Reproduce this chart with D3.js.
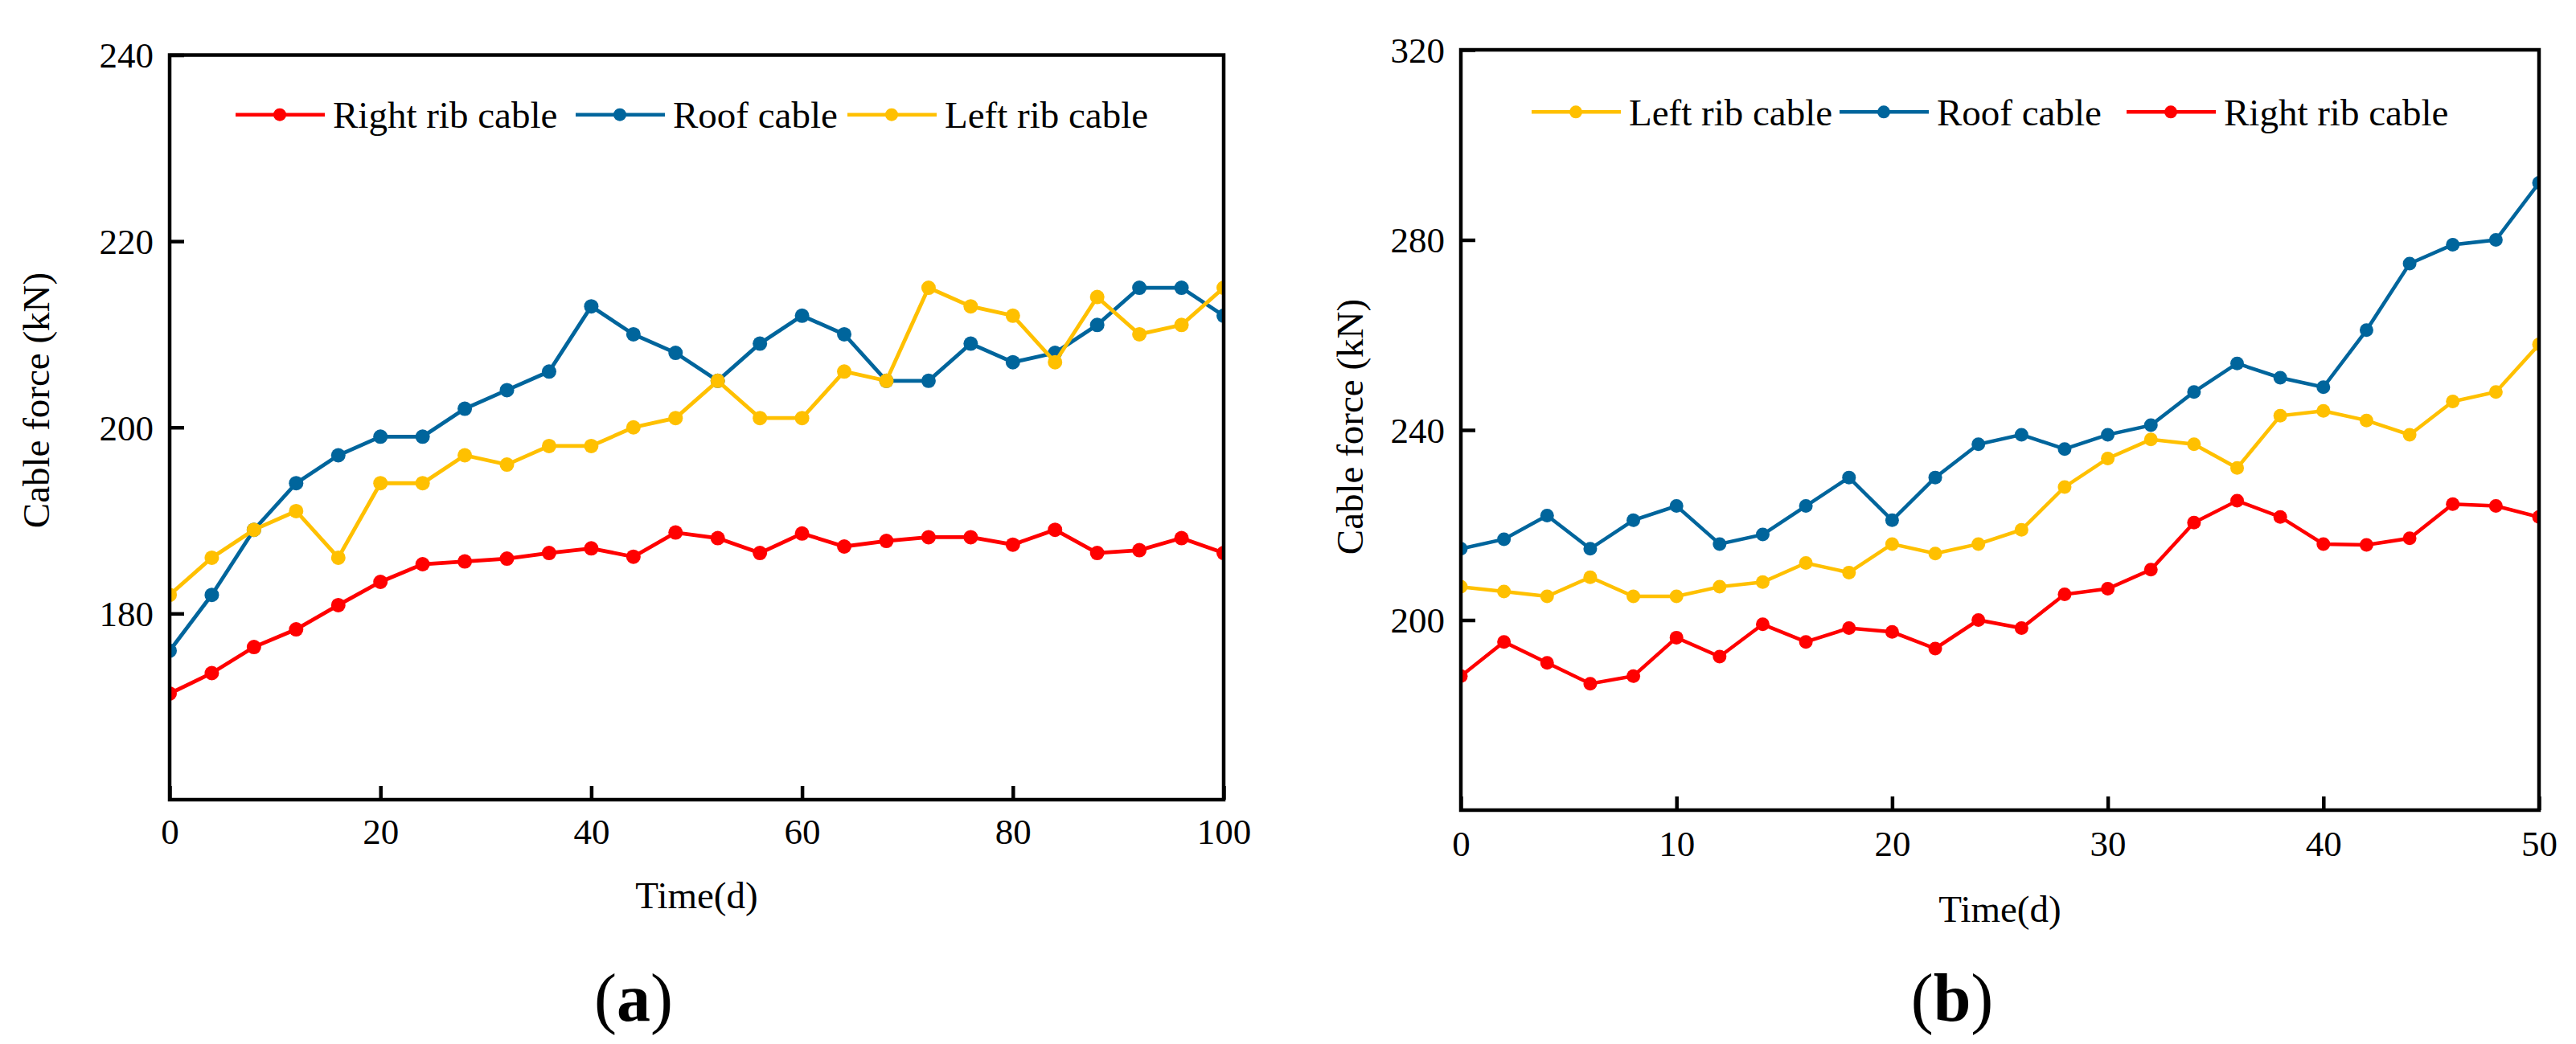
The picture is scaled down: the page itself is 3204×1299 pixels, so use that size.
<!DOCTYPE html>
<html>
<head>
<meta charset="utf-8">
<script src="https://cdn.jsdelivr.net/npm/d3@7/dist/d3.min.js"></script>
<style>
  html, body { margin: 0; padding: 0; background: #fff; }
  svg { display: block; }
  text { font-family: "Liberation Serif", "Times New Roman", serif; fill: #000; }
</style>
</head>
<body>
<svg id="chart" width="3204" height="1299"></svg>
<script>
// ---------- Data: panel (a) ----------
const timeA = [0,4,8,12,16,20,24,28,32,36,40,44,48,52,56,60,64,68,72,76,80,84,88,92,96,100];
const rightRibA = [171.4,173.6,176.4,178.3,180.9,183.4,185.3,185.6,185.9,186.5,187.0,186.1,188.7,188.1,186.5,188.6,187.2,187.8,188.2,188.2,187.4,189.0,186.5,186.8,188.1,186.5];
const roofA = [176,182,189,194,197,199,199,202,204,206,213,210,208,205,209,212,210,205,205,209,207,208,211,215,215,212];
const leftRibA = [182,186,189,191,186,194,194,197,196,198,198,200,201,205,201,201,206,205,215,213,212,207,214,210,211,215];
const xTicksA = [0,20,40,60,80,100];
const yTicksA = [180,200,220,240];

// ---------- Data: panel (b) ----------
const timeB = [0,2,4,6,8,10,12,14,16,18,20,22,24,26,28,30,32,34,36,38,40,42,44,46,48,50];
const leftRibB = [207,206,205,209,205,205,207,208,212,210,216,214,216,219,228,234,238,237,232,243,244,242,239,246,248,258];
const roofB = [215,217,222,215,221,224,216,218,224,230,221,230,237,239,236,239,241,248,254,251,249,261,275,279,280,292];
const rightRibB = [188.2,195.4,191,186.6,188.2,196.3,192.3,199.1,195.4,198.3,197.5,194,200,198.3,205.4,206.6,210.6,220.5,225.1,221.7,216,215.8,217.2,224.4,224,221.7];
const xTicksB = [0,10,20,30,40,50];
const yTicksB = [200,240,280,320];

const seriesNames = ["Right rib cable", "Roof cable", "Left rib cable"];
const colors = { "Right rib cable": "#FF0000", "Roof cable": "#00659C", "Left rib cable": "#FFC000" };

const svg = d3.select("#chart");

function drawPanel(cfg) {
  const g = svg.append("g");
  const x = d3.scaleLinear().domain(cfg.xDomain).range([cfg.left, cfg.right]);
  const y = d3.scaleLinear().domain(cfg.yDomain).range([cfg.bottom, cfg.top]);

  const clipId = "clip-" + cfg.id;
  svg.append("defs").append("clipPath").attr("id", clipId)
    .append("rect")
    .attr("x", cfg.left).attr("y", cfg.top)
    .attr("width", cfg.right - cfg.left).attr("height", cfg.bottom - cfg.top);

  // series
  const plot = g.append("g").attr("clip-path", `url(#${clipId})`);
  const line = d3.line().x(d => x(d[0])).y(d => y(d[1]));
  cfg.series.forEach(s => {
    const pts = cfg.time.map((t, i) => [t, s.values[i]]);
    plot.append("path").datum(pts)
      .attr("fill", "none").attr("stroke", colors[s.name])
      .attr("stroke-width", cfg.lineW).attr("d", line);
    plot.selectAll(null).data(pts).enter().append("circle")
      .attr("cx", d => x(d[0])).attr("cy", d => y(d[1]))
      .attr("r", cfg.markR).attr("fill", colors[s.name]);
  });

  // axes
  const xAxis = d3.axisBottom(x).tickValues(cfg.xTicks).tickSizeInner(-17).tickSizeOuter(0).tickPadding(cfg.xPad);
  const yAxis = d3.axisLeft(y).tickValues(cfg.yTicks).tickSizeInner(-18).tickSizeOuter(0).tickPadding(20);
  const gx = g.append("g").attr("transform", `translate(0,${cfg.bottom})`).call(xAxis);
  const gy = g.append("g").attr("transform", `translate(${cfg.left},0)`).call(yAxis);
  [gx, gy].forEach(a => {
    a.select(".domain").remove();
    a.selectAll(".tick line").attr("stroke", "#000").attr("stroke-width", 4.5);
    a.selectAll(".tick text").attr("font-size", 45).attr("font-family", '"Liberation Serif", "Times New Roman", serif');
  });
  gy.selectAll(".tick text").attr("dy", "0.34em");

  // frame
  g.append("rect")
    .attr("x", cfg.left).attr("y", cfg.top)
    .attr("width", cfg.right - cfg.left).attr("height", cfg.bottom - cfg.top)
    .attr("fill", "none").attr("stroke", "#000").attr("stroke-width", 4.5);

  // axis titles
  g.append("text").attr("x", (cfg.left + cfg.right) / 2).attr("y", cfg.xTitleY)
    .attr("text-anchor", "middle").attr("font-size", 47).text("Time(d)");
  g.append("text")
    .attr("transform", `translate(${cfg.yTitleX},${cfg.yTitleCY}) rotate(-90)`)
    .attr("text-anchor", "middle").attr("font-size", 47).text("Cable force (kN)");

  // legend
  cfg.series.forEach((s, i) => {
    const lx = cfg.left + cfg.legendOffsets[i];
    const ly = cfg.legendY;
    const lg = g.append("g");
    lg.append("line").attr("x1", lx).attr("x2", lx + 111).attr("y1", ly).attr("y2", ly)
      .attr("stroke", colors[s.name]).attr("stroke-width", 4.5);
    lg.append("circle").attr("cx", lx + 55).attr("cy", ly).attr("r", 8).attr("fill", colors[s.name]);
    lg.append("text").attr("x", lx + 121).attr("y", ly).attr("dy", "0.35em")
      .attr("font-size", 47).text(s.name);
  });

  // panel label
  const lab = g.append("text").attr("x", cfg.labelX).attr("y", 1270)
    .attr("text-anchor", "middle").attr("font-size", 84);
  lab.append("tspan").text("(");
  lab.append("tspan").attr("font-weight", "bold").text(cfg.label);
  lab.append("tspan").text(")");
}

drawPanel({
  id: "a", left: 211, right: 1522, top: 68.5, bottom: 995,
  xDomain: [0, 100], yDomain: [160, 240],
  xTicks: xTicksA, yTicks: yTicksA, time: timeA, xPad: 23,
  series: [
    { name: seriesNames[0], values: rightRibA },
    { name: seriesNames[1], values: roofA },
    { name: seriesNames[2], values: leftRibA }
  ],
  lineW: 4.8, markR: 9,
  xTitleY: 1130, yTitleX: 61, yTitleCY: 498,
  legendOffsets: [82, 505, 843], legendY: 142.7,
  label: "a", labelX: 788
});

drawPanel({
  id: "b", left: 1817, right: 3158, top: 62, bottom: 1008,
  xDomain: [0, 50], yDomain: [160, 320],
  xTicks: xTicksB, yTicks: yTicksB, time: timeB, xPad: 25,
  series: [
    { name: seriesNames[2], values: leftRibB },
    { name: seriesNames[1], values: roofB },
    { name: seriesNames[0], values: rightRibB }
  ],
  lineW: 4.5, markR: 8.5,
  xTitleY: 1147, yTitleX: 1695, yTitleCY: 531,
  legendOffsets: [88, 471, 828], legendY: 139.3,
  label: "b", labelX: 2428
});
</script>
</body>
</html>
